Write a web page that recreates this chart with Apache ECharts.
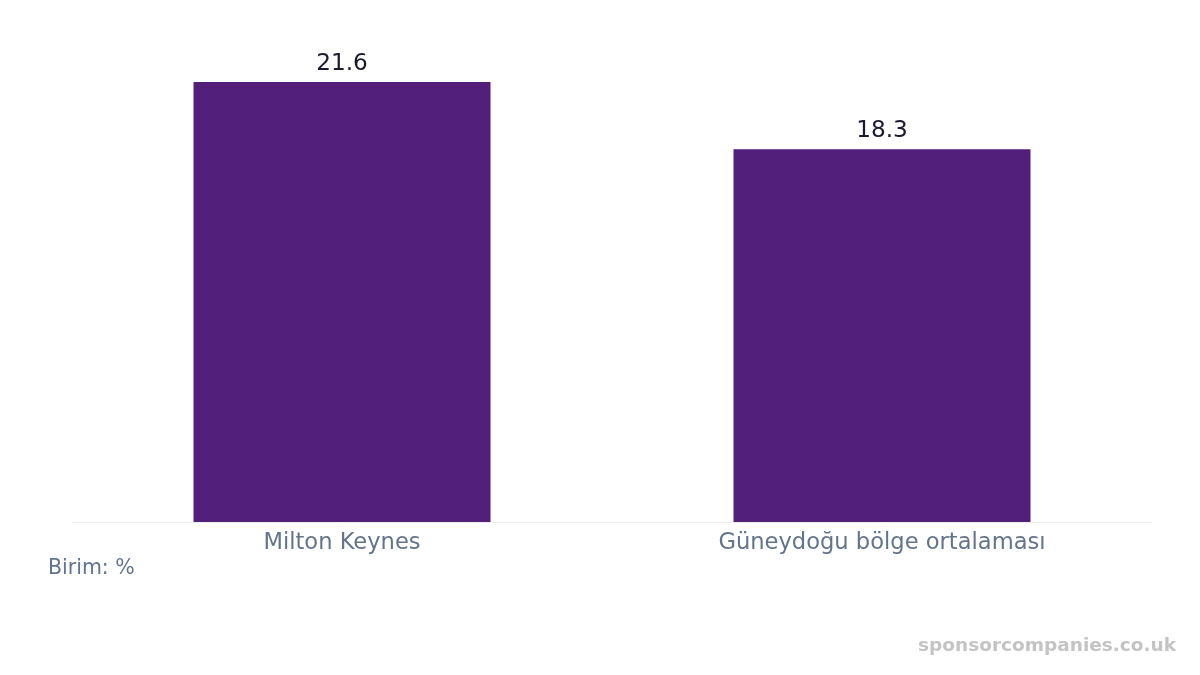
<!DOCTYPE html>
<html>
<head>
<meta charset="utf-8">
<script src="https://cdn.jsdelivr.net/npm/echarts@6/dist/echarts.min.js"></script>
<style>
  html, body { margin: 0; padding: 0; background: #fff; }
  #chart-container { width: 1200px; height: 675px; }
</style>
</head>
<body>
<div id="chart-container"></div>
<script>
const categories = ["Milton Keynes", "Güneydoğu bölge ortalaması"];
const values = [21.6, 18.3];
const unitLabel = "Birim: %";
const watermark = "sponsorcompanies.co.uk";

(() => {
  var dom = document.getElementById("chart-container");
  var chart = echarts.init(dom, null, { renderer: "canvas" });
  const font = "DejaVu Sans";
  const option = {
    animation: false,
    backgroundColor: "#ffffff",
    grid: { left: 72, right: 48, top: 82, bottom: 153 },
    xAxis: {
      type: "category",
      data: categories,
      axisLine: { lineStyle: { color: "#eeeeee", width: 1 } },
      axisTick: { show: false },
      axisLabel: { color: "#64748b", fontFamily: font, fontSize: 22.6, margin: 10 },
    },
    yAxis: {
      type: "value",
      min: 0,
      max: 21.6,
      show: false,
      splitLine: { show: false },
    },
    series: [
      {
        type: "bar",
        data: values,
        barWidth: "55%",
        itemStyle: { color: "#52207a" },
        label: {
          show: true,
          position: "top",
          distance: 7,
          color: "#1a1a2e",
          fontFamily: font,
          fontSize: 23.2,
          formatter: (p) => p.value.toFixed(1),
        },
      },
    ],
    graphic: [
      {
        type: "text",
        left: 48,
        top: 558.5,
        style: { text: unitLabel, fill: "#64748b", font: "20.5px DejaVu Sans" },
      },
      {
        type: "text",
        right: 24,
        top: 637,
        style: { text: watermark, fill: "#c4c4c4", font: "bold 18.5px DejaVu Sans" },
      },
    ],
  };
  chart.setOption(option);
  window.addEventListener("resize", chart.resize);
})();
</script>
</body>
</html>
